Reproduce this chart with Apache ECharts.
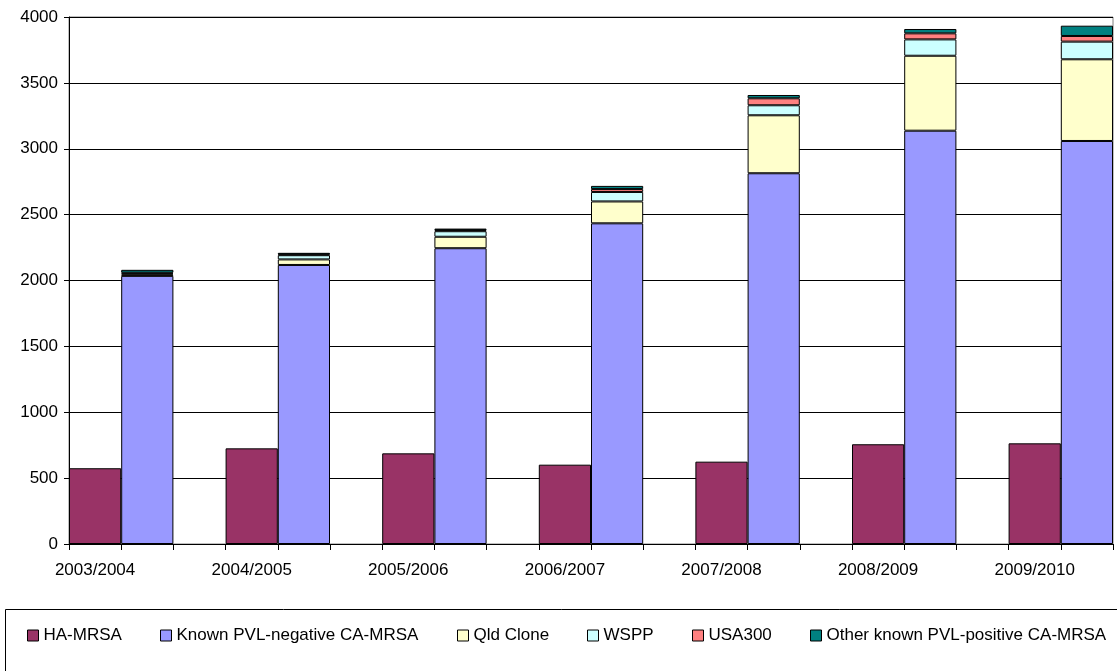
<!DOCTYPE html>
<html>
<head>
<meta charset="utf-8">
<script src="https://cdn.jsdelivr.net/npm/echarts@6/dist/echarts.min.js"></script>
<style>
  html, body { margin: 0; padding: 0; background: #fff; }
  #chart { width: 1117px; height: 671px; }
</style>
</head>
<body>
<div id="chart"></div>
<script>
// Financial years shown on the category axis
const years = ['2003/2004', '2004/2005', '2005/2006', '2006/2007', '2007/2008', '2008/2009', '2009/2010'];

// Hospital-associated MRSA (left column of each year)
const haMrsa = [575, 726, 688, 602, 625, 757, 764];

// Community-associated MRSA, stacked in the right column of each year
const pvlNegative = [2035, 2118, 2245, 2434, 2814, 3137, 3059];
const qldClone = [10, 42, 87, 166, 440, 569, 620];
const wspp = [8, 32, 42, 72, 76, 124, 134];
const usa300 = [6, 6, 8, 22, 53, 46, 43];
const otherPvlPositive = [22, 12, 12, 24, 25, 33, 78];

// Value axis range
const yMin = 0;
const yMax = 4000;
const yStep = 500;

const FONT = '"Liberation Sans", Arial, sans-serif';

// Each year takes three slots: HA column, CA column, empty gap (no gap after the last year)
const slotLabels = [];
years.forEach((y, i) => {
  slotLabels.push(y, '');
  if (i < years.length - 1) slotLabels.push('');
});
function slotData(values, offset) {
  const out = slotLabels.map(() => '-');
  values.forEach((v, i) => { out[i * 3 + offset] = v; });
  return out;
}

const seriesDefs = [
  { name: 'HA-MRSA', values: haMrsa, offset: 0, color: '#993366' },
  { name: 'Known PVL-negative CA-MRSA', values: pvlNegative, offset: 1, color: '#9999FF' },
  { name: 'Qld Clone', values: qldClone, offset: 1, color: '#FFFFCC' },
  { name: 'WSPP', values: wspp, offset: 1, color: '#CCFFFF' },
  { name: 'USA300', values: usa300, offset: 1, color: '#FF8080' },
  { name: 'Other known PVL-positive CA-MRSA', values: otherPvlPositive, offset: 1, color: '#008080' }
];

const legendLefts = [27, 160, 457, 587, 692, 810];

const chart = echarts.init(document.getElementById('chart'), null, { renderer: 'canvas' });

chart.setOption({
  animation: false,
  backgroundColor: '#fff',
  textStyle: { fontFamily: FONT, color: '#000' },
  grid: {
    left: 69, right: 4, top: 17, bottom: 127,
    show: true, borderColor: '#808080', borderWidth: 1, backgroundColor: 'transparent'
  },
  legend: seriesDefs.map((s, i) => ({
    data: [s.name],
    left: legendLefts[i],
    top: 627,
    padding: 0,
    itemWidth: 11,
    itemHeight: 11,
    itemGap: 0,
    itemTextGap: 4,
    icon: 'rect',
    selectedMode: false,
    itemStyle: { borderColor: '#000', borderWidth: 1 },
    textStyle: { fontFamily: FONT, fontSize: 17, color: '#000' }
  })),
  xAxis: {
    type: 'category',
    data: slotLabels,
    boundaryGap: true,
    axisLine: { lineStyle: { color: '#000', width: 1 } },
    axisTick: { show: true, interval: 0, length: 6, lineStyle: { color: '#000' } },
    axisLabel: { interval: 0, margin: 18, fontFamily: FONT, fontSize: 17, color: '#000' },
    splitLine: { show: false }
  },
  yAxis: {
    type: 'value',
    min: yMin, max: yMax, interval: yStep,
    axisLine: { show: true, lineStyle: { color: '#000', width: 1 } },
    axisTick: { show: true, length: 5, lineStyle: { color: '#000' } },
    axisLabel: {
      margin: 11, fontFamily: FONT, fontSize: 17, color: '#000',
      formatter: v => String(v)
    },
    splitLine: { show: true, lineStyle: { color: '#000', width: 1 } }
  },
  graphic: [{
    type: 'rect',
    silent: true,
    shape: { x: 5.5, y: 609.5, width: 1300, height: 200 },
    style: { fill: 'transparent', stroke: '#000', lineWidth: 1 },
    z: -1
  }],
  series: seriesDefs.map(s => ({
    name: s.name,
    type: 'bar',
    stack: 'all',
    barCategoryGap: '0%',
    barWidth: '100%',
    data: slotData(s.values, s.offset),
    itemStyle: { color: s.color, borderColor: '#000', borderWidth: 1 }
  }))
});
</script>
</body>
</html>
